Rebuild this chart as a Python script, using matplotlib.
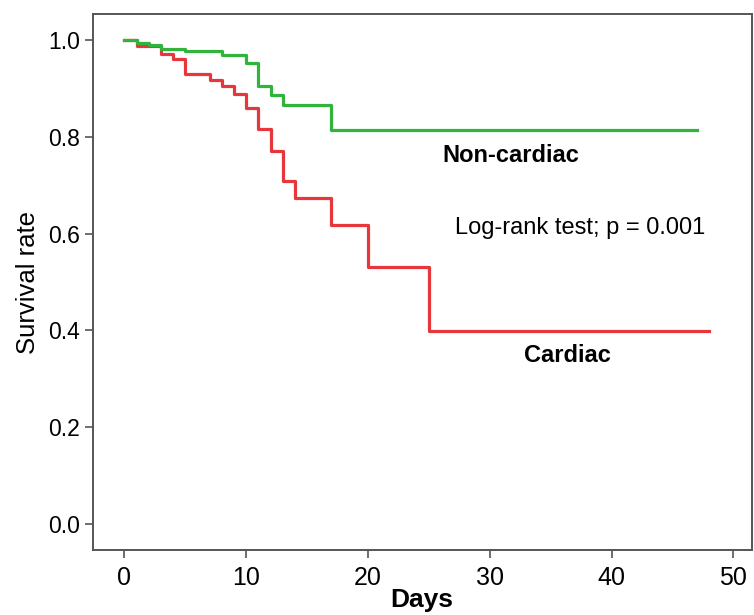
import matplotlib
matplotlib.use("Agg")
import matplotlib.pyplot as plt

plt.rcParams['font.family'] = ['Liberation Sans', 'DejaVu Sans']
narrow = ['Liberation Sans Narrow', 'Liberation Sans']

# Kaplan-Meier step data (event days and survival after the step)
noncardiac_days = [0, 1, 2, 3, 5, 8, 10, 11, 12, 13, 17, 47]
noncardiac_surv = [1.0, 0.994, 0.990, 0.981, 0.977, 0.969, 0.953, 0.905, 0.886, 0.866, 0.815, 0.815]

cardiac_days = [0, 1, 3, 4, 5, 7, 8, 9, 10, 11, 12, 13, 14, 17, 20, 25, 48]
cardiac_surv = [1.0, 0.988, 0.972, 0.962, 0.930, 0.917, 0.905, 0.888, 0.860, 0.816,
                0.770, 0.708, 0.674, 0.617, 0.531, 0.399, 0.399]

x_ticks = [0, 10, 20, 30, 40, 50]
y_ticks = [0.0, 0.2, 0.4, 0.6, 0.8, 1.0]

fig = plt.figure(figsize=(7.54, 6.15), dpi=100)
ax = fig.add_axes([0.123, 0.105, 0.874, 0.872])

ax.step(cardiac_days, cardiac_surv, where='post', color='#e8363d', lw=2.3)
ax.step(noncardiac_days, noncardiac_surv, where='post', color='#30b43c', lw=2.3)

ax.set_xlim(-2.6, 51.5)
ax.set_ylim(-0.055, 1.054)
ax.set_xticks(x_ticks)
ax.set_xticklabels([str(v) for v in x_ticks], family=narrow, fontsize=18)
ax.set_yticks(y_ticks)
ax.set_yticklabels(['%.1f' % v for v in y_ticks], fontsize=16.5)

for s in ax.spines.values():
    s.set_color('#555555')
    s.set_linewidth(1.4)
ax.tick_params(direction='out', length=6, width=1.2, color='#555555')
ax.tick_params(axis='x', pad=5)
ax.tick_params(axis='y', pad=3)

ax.set_xlabel('Days', fontsize=19, fontweight='bold', family=narrow, labelpad=-1)
ax.set_ylabel('Survival rate', fontsize=18.5, labelpad=6)

ax.text(26.1, 0.762, 'Non-cardiac', fontsize=17, fontweight='bold', va='center', ha='left')
ax.text(27.1, 0.611, 'Log-rank test; p = 0.001', fontsize=17, va='center', ha='left')
ax.text(32.8, 0.349, 'Cardiac', fontsize=17, fontweight='bold', va='center', ha='left')

fig.savefig('out.png', dpi=100)
